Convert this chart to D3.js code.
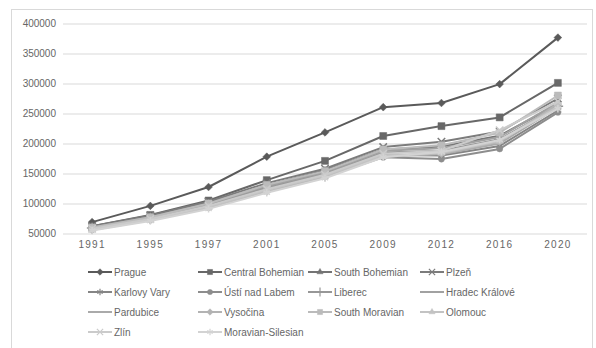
<!DOCTYPE html>
<html><head><meta charset="utf-8">
<script src="https://cdn.jsdelivr.net/npm/d3@7"></script>
<style>
html,body{margin:0;padding:0;background:#fff;}
svg{display:block;}
text{font-family:"Liberation Sans",Arial,sans-serif;fill:#595959;}
</style></head>
<body>
<svg id="c" width="596" height="348"></svg>
<script>
const years = ["1991","1995","1997","2001","2005","2009","2012","2016","2020"];
const yTicks = [50000,100000,150000,200000,250000,300000,350000,400000];
const regions = ["Prague","Central Bohemian","South Bohemian","Plzeň","Karlovy Vary","Ústí nad Labem","Liberec","Hradec Králové","Pardubice","Vysočina","South Moravian","Olomouc","Zlín","Moravian-Silesian"];
const prague          = [69000, 96000,127500,178000,218500,260500,267500,299000,376500];
const centralBohemian = [62000, 81000,105000,139000,171000,212500,229000,243500,301000];
const southBohemian   = [60000, 78000,100000,130000,155000,190000,195000,213000,265000];
const plzen           = [62000, 80000,103000,134000,158000,194000,203000,220000,275000];
const karlovyVary     = [58000, 75000, 96000,125000,148000,181000,180000,196000,255000];
const ustiNadLabem    = [57000, 73000, 94000,121000,145000,177000,174000,191000,252000];
const liberec         = [59000, 76000, 98000,127000,150000,185000,188000,207000,262000];
const hradecKralove   = [60000, 77000, 99000,129000,152000,188000,192000,211000,268000];
const pardubice       = [57000, 74000, 95000,123000,146000,180000,182000,200000,260000];
const vysocina        = [56000, 72000, 93000,120000,144000,178000,183000,203000,266000];
const southMoravian   = [60000, 77000,100000,131000,154000,190000,197000,218000,280000];
const olomouc         = [57000, 73000, 94000,122000,146000,180000,184000,204000,262000];
const zlin            = [58000, 74000, 96000,124000,148000,183000,188000,222000,270000];
const moravianSilesian= [55000, 71000, 91000,118000,142000,177000,186000,206000,258000];
const seriesValues = [prague,centralBohemian,southBohemian,plzen,karlovyVary,ustiNadLabem,liberec,hradecKralove,pardubice,vysocina,southMoravian,olomouc,zlin,moravianSilesian];

const colors = ["#5a5a5a","#686868","#747474","#7c7c7c","#858585","#8d8d8d","#979797","#a1a1a1","#aaaaaa","#b3b3b3","#bbbbbb","#c3c3c3","#cbcbcb","#d3d3d3"];
const markers = ["diamond","square","triangle","times","asterisk","circle","plus","none","none","diamond","square","triangle","times","asterisk"];

const svg = d3.select("#c");
// chart border
svg.append("rect").attr("x",11.5).attr("y",9.5).attr("width",581).attr("height",345)
  .attr("fill","#fff").attr("stroke","#d9d9d9").attr("stroke-width",1);

const x = d3.scaleBand().domain(years).range([63,587]);
const y = d3.scaleLinear().domain([50000,400000]).range([233.5,23.5]);

// gridlines
const grid = svg.append("g").attr("transform","translate(63,0)")
  .call(d3.axisLeft(y).tickValues(yTicks).tickSize(-524).tickFormat(""));
grid.select(".domain").remove();
grid.selectAll("line").attr("stroke","#d9d9d9").attr("stroke-width",1);

// y labels
const ya = svg.append("g").attr("transform","translate(56,0)")
  .call(d3.axisLeft(y).tickValues(yTicks).tickSize(0).tickPadding(0).tickFormat(d3.format("d")));
ya.select(".domain").remove();
ya.selectAll("text").attr("font-size","10px").style("fill","#666").attr("font-family","Liberation Sans, Arial, sans-serif");

// x labels
const xa = svg.append("g").attr("transform","translate(0,241)")
  .call(d3.axisBottom(x).tickSize(0).tickPadding(0));
xa.select(".domain").remove();
xa.selectAll("text").attr("font-size","10px").attr("letter-spacing","1.3px").style("fill","#666").attr("font-family","Liberation Sans, Arial, sans-serif");

function markerPath(type, s){
  switch(type){
    case "diamond": return d3.symbol(d3.symbolDiamond2, s*s*0.9)();
    case "square": return d3.symbol(d3.symbolSquare2, s*s*1.1)();
    case "triangle": return d3.symbol(d3.symbolTriangle2, s*s*0.9)();
    case "times": return d3.symbol(d3.symbolTimes, s*s*0.9)();
    case "asterisk": return d3.symbol(d3.symbolAsterisk, s*s*0.9)();
    case "circle": return d3.symbol(d3.symbolCircle, s*s*0.7)();
    case "plus": return d3.symbol(d3.symbolPlus, s*s*0.9)();
  }
  return null;
}
const strokeMarkers = new Set(["times","asterisk","plus"]);

const line = d3.line().x((d,i)=>x(years[i])+x.bandwidth()/2).y(d=>y(d));

seriesValues.forEach((vals,k)=>{
  const g = svg.append("g");
  g.append("path").attr("d",line(vals)).attr("fill","none")
    .attr("stroke",colors[k]).attr("stroke-width",2).attr("stroke-linejoin","round");
  const m = markers[k];
  if(m!=="none"){
    const size = k===1||k===10 ? 7.5 : 6.5;
    g.selectAll("path.m").data(vals).join("path").attr("class","m")
      .attr("d",markerPath(m,size))
      .attr("transform",(d,i)=>`translate(${x(years[i])+x.bandwidth()/2},${y(d)})`)
      .attr("fill",strokeMarkers.has(m)?"none":colors[k])
      .attr("stroke",colors[k]).attr("stroke-width",strokeMarkers.has(m)?1.5:0.5);
  }
});

// legend
const colX = [88,198,308,420];
const rowY = [272,292,312,332];
regions.forEach((name,k)=>{
  const cx = colX[k%4], cy = rowY[Math.floor(k/4)];
  const g = svg.append("g").attr("transform",`translate(${cx},${cy})`);
  g.append("line").attr("x1",0).attr("x2",24).attr("y1",0).attr("y2",0)
    .attr("stroke",colors[k]).attr("stroke-width",2);
  const m = markers[k];
  if(m!=="none"){
    g.append("path").attr("d",markerPath(m,5.5)).attr("transform","translate(12,0)")
      .attr("fill",strokeMarkers.has(m)?"none":colors[k])
      .attr("stroke",colors[k]).attr("stroke-width",strokeMarkers.has(m)?1.2:0.5);
  }
  g.append("text").attr("x",26).attr("y",0).attr("dy","0.35em")
    .attr("font-size","10px").style("fill","#666").text(name);
});
</script>
</body></html>
